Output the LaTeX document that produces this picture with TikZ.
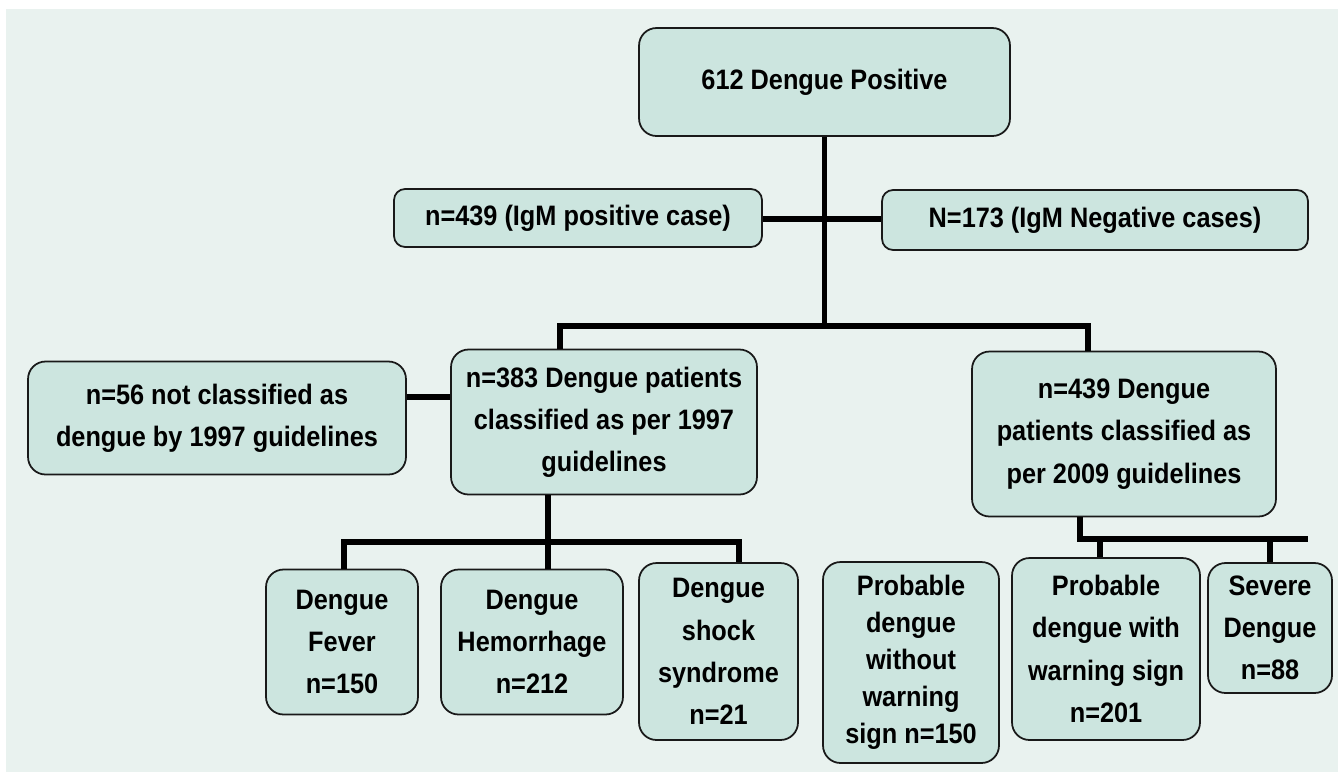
\documentclass[tikz,border=0pt]{standalone}
\usepackage{fontspec}
\setmainfont{Liberation Sans}
\newfontfamily\narrowsans{Liberation Sans}[FakeStretch=0.9]
\definecolor{paper}{RGB}{233,242,239}
\definecolor{boxfill}{RGB}{204,229,223}
\tikzset{
  cbox/.style={draw=black!90, line width=1pt, fill=boxfill, rounded corners=0.35cm,
    align=center, inner sep=0pt, font=\narrowsans\bfseries\fontsize{16}{24}\selectfont},
  link/.style={line width=3pt},
}
\begin{document}
\begin{tikzpicture}[x=0.02cm,y=-0.02cm]
  \useasboundingbox (0,0) rectangle (1338,772);
  \fill[paper] (6,9) rectangle (1338,772);

  % top and IgM split
  \node[cbox, minimum width=7.42cm, minimum height=2.16cm] (pos) at (824.5,82) {612 Dengue Positive};
  \node[cbox, minimum width=7.36cm, minimum height=1.16cm, rounded corners=0.22cm] (igp) at (578,218) {n=439 (IgM positive case)};
  \node[cbox, minimum width=8.52cm, minimum height=1.2cm, rounded corners=0.22cm] (ign) at (1095,220) {N=173 (IgM Negative cases)};

  % guideline boxes
  \node[cbox, minimum width=7.56cm, minimum height=2.26cm] (nc56) at (217,418) {n=56 not classified as\\dengue by 1997 guidelines};
  \node[cbox, minimum width=6.12cm, minimum height=2.9cm] (c97) at (604,422) {n=383 Dengue patients\\classified as per 1997\\guidelines};
  \node[cbox, minimum width=6.08cm, minimum height=3.3cm] (c09) at (1124,434) {n=439 Dengue\\patients classified as\\per 2009 guidelines};

  % 1997 classes
  \node[cbox, minimum width=3.04cm, minimum height=2.9cm] (fev) at (342,642) {Dengue\\Fever\\n=150};
  \node[cbox, minimum width=3.64cm, minimum height=2.9cm] (hem) at (532,642) {Dengue\\Hemorrhage\\n=212};
  \node[cbox, minimum width=3.18cm, minimum height=3.54cm] (shk) at (718.5,651.5) {Dengue\\shock\\syndrome\\n=21};

  % 2009 classes
  \node[cbox, minimum width=3.52cm, minimum height=4.02cm, font=\narrowsans\bfseries\fontsize{16}{21}\selectfont] (pwo) at (911,662.5) {Probable\\dengue\\without\\warning\\sign n=150};
  \node[cbox, minimum width=3.76cm, minimum height=3.64cm] (pw) at (1106,649) {Probable\\dengue with\\warning sign\\n=201};
  \node[cbox, minimum width=2.48cm, minimum height=2.6cm] (sev) at (1270,628) {Severe\\Dengue\\n=88};

  \coordinate (mid) at (824.5,219);
  \coordinate (t1) at (824.5,326);
  \coordinate (l1) at (560,326); \coordinate (r1) at (1088,326);
  \coordinate (c56) at (430,397);
  \coordinate (l2) at (548,542); \coordinate (f1) at (344,542); \coordinate (s1) at (739,542);
  \coordinate (r2) at (1080,539); \coordinate (r3) at (1308,539);
  \coordinate (p1) at (1100,539); \coordinate (q1) at (1270,539);

  \draw[link] (pos.south) -- (t1); \draw[link] (igp.east |- mid) -- (ign.west |- mid);
  \draw[link] (c97.north -| l1) -- (l1) -- (r1) -- (c09.north -| r1);
  \draw[link] (nc56.east |- c56) -- (c97.west |- c56);
  \draw[link] (c97.south -| l2) -- (hem.north -| l2); \draw[link] (fev.north -| f1) -- (f1) -- (s1) -- (shk.north -| s1);
  \draw[link] (c09.south -| r2) -- (r2) -- (r3); \draw[link] (p1) -- (pw.north -| p1); \draw[link] (q1) -- (sev.north -| q1);
\end{tikzpicture}
\end{document}
